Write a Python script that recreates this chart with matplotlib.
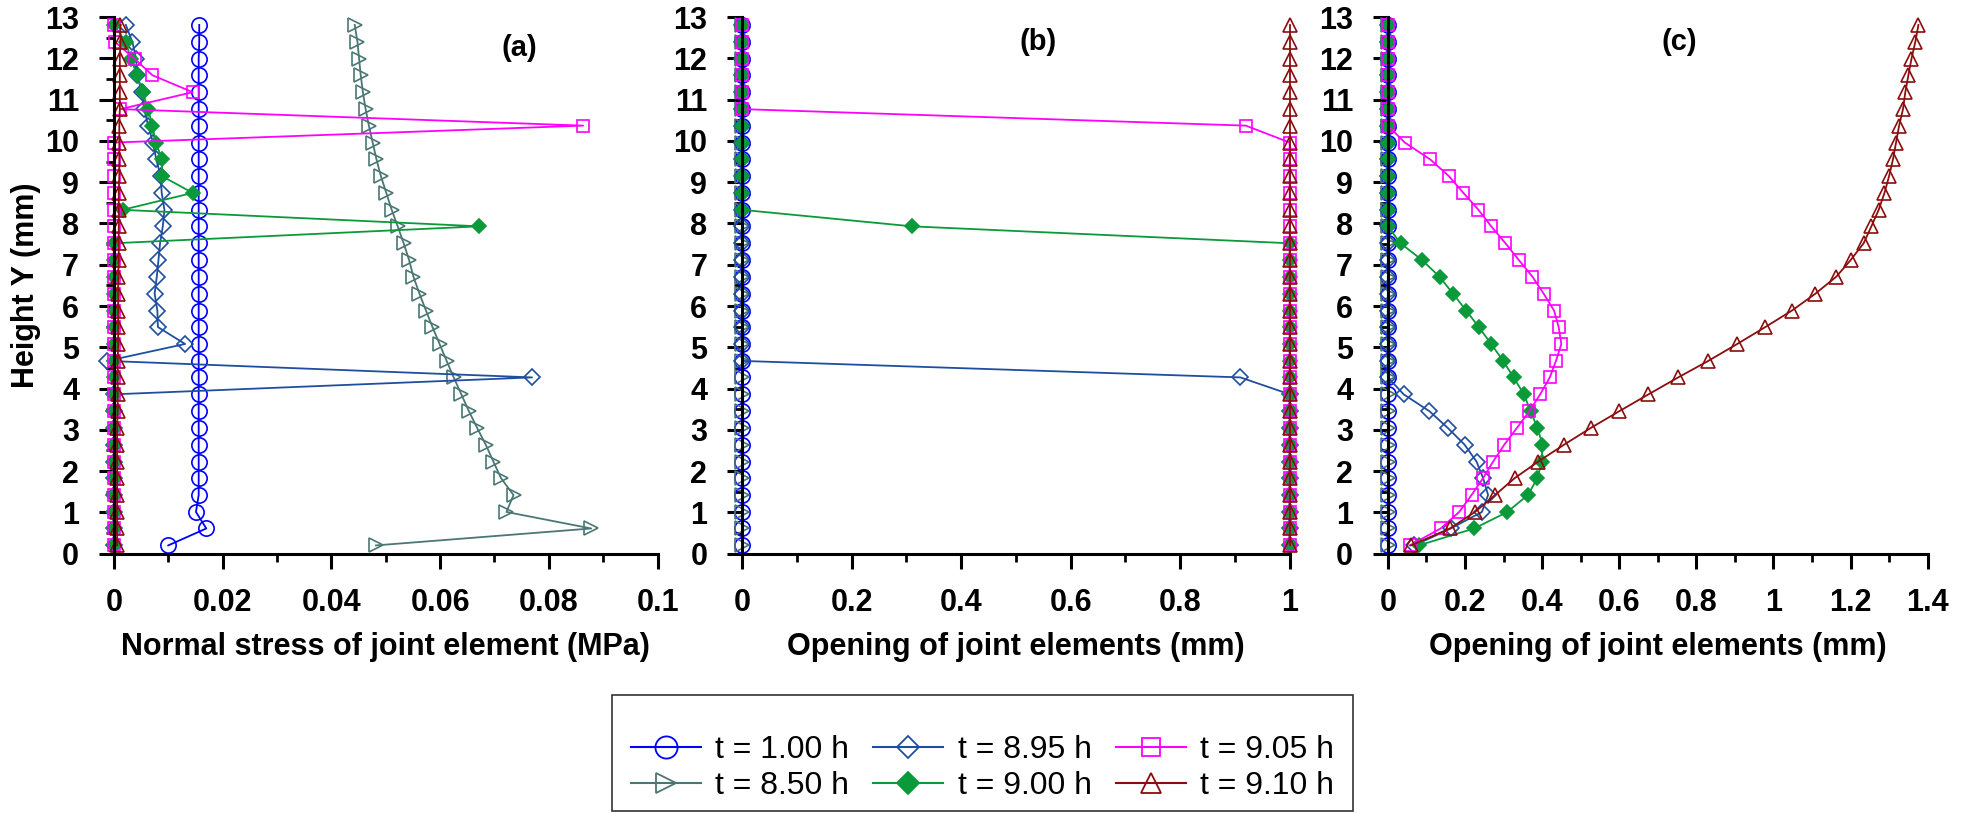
import matplotlib
matplotlib.use("Agg")
import matplotlib.pyplot as plt
from matplotlib.ticker import MultipleLocator, FormatStrFormatter
from matplotlib.lines import Line2D
from matplotlib.patches import Rectangle

plt.rcParams['font.family'] = ['Liberation Sans Narrow', 'Liberation Sans', 'DejaVu Sans']

# heights of joint elements (mm)
heights = [0.2, 0.61, 1.01, 1.42, 1.83, 2.23, 2.64, 3.05, 3.45, 3.86, 4.27, 4.67,
           5.08, 5.49, 5.89, 6.3, 6.71, 7.11, 7.52, 7.93, 8.33, 8.74, 9.15, 9.55,
           9.96, 10.37, 10.77, 11.18, 11.59, 11.99, 12.4, 12.81]

labels = ['t = 1.00 h', 't = 8.50 h', 't = 8.95 h', 't = 9.00 h', 't = 9.05 h', 't = 9.10 h']

# (a) normal stress (MPa)
stress_100 = [0.0100, 0.0170, 0.0151, 0.0156, 0.0156, 0.0156, 0.0156, 0.0156, 0.0156, 0.0156,
              0.0156, 0.0156, 0.0156, 0.0156, 0.0156, 0.0156, 0.0156, 0.0156, 0.0156, 0.0156,
              0.0156, 0.0156, 0.0156, 0.0156, 0.0156, 0.0156, 0.0156, 0.0156, 0.0156, 0.0156,
              0.0157, 0.0157]
stress_850 = [0.0482, 0.0878, 0.0722, 0.0735, 0.0712, 0.0698, 0.0684, 0.0668, 0.0653, 0.0639,
              0.0625, 0.0612, 0.0599, 0.0586, 0.0574, 0.0562, 0.0551, 0.0543, 0.0533, 0.0522,
              0.0511, 0.0501, 0.0491, 0.0483, 0.0476, 0.0469, 0.0463, 0.0458, 0.0454, 0.0451,
              0.0448, 0.0443]
stress_895 = [0.0, 0.0, 0.0, 0.0, 0.0, 0.0, 0.0, 0.0, 0.0, 0.0,
              0.0769, -0.0012, 0.0131, 0.0081, 0.0080, 0.0075, 0.0079, 0.0082, 0.0085, 0.0090,
              0.0093, 0.0088, 0.0086, 0.0078, 0.0072, 0.0063, 0.0056, 0.0051, 0.0043, 0.0041,
              0.0034, 0.0022]
stress_900 = [0.0, 0.0, 0.0, 0.0, 0.0, 0.0, 0.0, 0.0, 0.0, 0.0,
              0.0, 0.0, 0.0, 0.0, 0.0, 0.0, 0.0, 0.0, 0.0, 0.0672,
              0.0016, 0.0145, 0.0088, 0.0089, 0.0077, 0.0071, 0.0063, 0.0053, 0.0043, 0.0031,
              0.0022, 0.0]
stress_905 = [0.0, 0.0, 0.0, 0.0, 0.0, 0.0, 0.0, 0.0, 0.0, 0.0,
              0.0, 0.0, 0.0, 0.0, 0.0, 0.0, 0.0, 0.0, 0.0, 0.0,
              0.0, 0.0, 0.0, 0.0, 0.0, 0.0863, 0.0012, 0.0145, 0.0071, 0.0038,
              0.0002, 0.0]
stress_910 = [0.0006, 0.0006, 0.0006, 0.0006, 0.0006, 0.0006, 0.0006, 0.0006, 0.0007, 0.0007,
              0.0007, 0.0007, 0.0008, 0.0008, 0.0008, 0.0008, 0.0008, 0.0009, 0.0009, 0.0009,
              0.0009, 0.0009, 0.0010, 0.0010, 0.0010, 0.0010, 0.0011, 0.0011, 0.0011, 0.0011,
              0.0012, 0.0012]

# (b) opening of joint elements (mm), first stage
open_b_100 = [0.0] * 32
open_b_850 = [0.0] * 32
open_b_895 = [1.0] * 10 + [0.91] + [0.0] * 21
open_b_900 = [1.0] * 19 + [0.31] + [0.0] * 12
open_b_905 = [1.0] * 25 + [0.92] + [0.0] * 6
open_b_910 = [1.0] * 32

# (c) opening of joint elements (mm)
open_c_100 = [0.0] * 32
open_c_850 = [0.0] * 32
open_c_895 = [0.069, 0.163, 0.244, 0.26, 0.247, 0.23, 0.199, 0.155, 0.108, 0.041,
              0.0, 0.0, 0.0, 0.0, 0.0, 0.0, 0.0, 0.0, 0.0, 0.0,
              0.0, 0.0, 0.0, 0.0, 0.0, 0.0, 0.0, 0.0, 0.0, 0.0,
              0.0, 0.0]
open_c_900 = [0.08, 0.224, 0.31, 0.363, 0.388, 0.399, 0.401, 0.388, 0.37, 0.353,
              0.326, 0.299, 0.268, 0.236, 0.203, 0.169, 0.134, 0.089, 0.033, 0.0,
              0.0, 0.0, 0.0, 0.0, 0.0, 0.0, 0.0, 0.0, 0.0, 0.0,
              0.0, 0.0]
open_c_905 = [0.057, 0.137, 0.185, 0.217, 0.247, 0.273, 0.302, 0.335, 0.367, 0.395,
              0.42, 0.436, 0.45, 0.443, 0.431, 0.404, 0.375, 0.34, 0.305, 0.268,
              0.235, 0.196, 0.158, 0.11, 0.044, 0.0, 0.0, 0.0, 0.0, 0.0,
              0.0, 0.0]
open_c_910 = [0.06, 0.161, 0.226, 0.278, 0.329, 0.39, 0.457, 0.527, 0.6, 0.676,
              0.753, 0.831, 0.906, 0.979, 1.048, 1.109, 1.163, 1.2, 1.234, 1.254,
              1.273, 1.288, 1.3, 1.31, 1.318, 1.326, 1.336, 1.342, 1.35, 1.358,
              1.368, 1.376]

styles = [
    dict(color='#0000FF', marker='o', mfc='none', ms=11),
    dict(color='#4A7774', marker='>', mfc='none', ms=10),
    dict(color='#1F4EA0', marker='D', mfc='none', ms=8),
    dict(color='#0A9A3A', marker='D', mfc='#0A9A3A', ms=7.5),
    dict(color='#FF00FF', marker='s', mfc='none', ms=9),
    dict(color='#8B0D0D', marker='^', mfc='none', ms=10),
]

panels = [
    ([stress_100, stress_850, stress_895, stress_900, stress_905, stress_910],
     'Normal stress of joint element (MPa)', 0.1, 0.02, 0.01, '(a)', 0.0745, 12.25),
    ([open_b_100, open_b_850, open_b_895, open_b_900, open_b_905, open_b_910],
     'Opening of joint elements (mm)', 1.0, 0.2, 0.1, '(b)', 0.54, 12.4),
    ([open_c_100, open_c_850, open_c_895, open_c_900, open_c_905, open_c_910],
     'Opening of joint elements (mm)', 1.4, 0.2, 0.1, '(c)', 0.755, 12.4),
]

fig = plt.figure(figsize=(19.63, 8.13), dpi=100)
lefts = [0.058, 0.378, 0.707]
widths = [0.277, 0.279, 0.275]

for k, (series, xlabel, xmax, major, minor, tag, tx, ty) in enumerate(panels):
    ax = fig.add_axes([lefts[k], 0.319, widths[k], 0.66])
    for vals, st, lab in zip(series, styles, labels):
        ax.plot(vals, heights, lw=1.3, mew=1.2, clip_on=False, label=lab, **st)
    ax.set_xlim(0, xmax)
    ax.set_ylim(0, 13)
    ax.spines['top'].set_visible(False)
    ax.spines['right'].set_visible(False)
    ax.spines['left'].set_linewidth(2.2)
    ax.spines['bottom'].set_linewidth(2.2)
    ax.xaxis.set_major_locator(MultipleLocator(major))
    ax.xaxis.set_minor_locator(MultipleLocator(minor))
    ax.yaxis.set_major_locator(MultipleLocator(1))
    ax.yaxis.set_minor_locator(MultipleLocator(0.5))
    ax.xaxis.set_major_formatter(FormatStrFormatter('%g'))
    ax.tick_params(which='major', direction='out', length=11, width=2.2,
                   labelsize=22, pad=14)
    ax.tick_params(which='minor', direction='out', length=6, width=2)
    for t in ax.get_xticklabels() + ax.get_yticklabels():
        t.set_fontweight('bold')
    ax.set_xlabel(xlabel, fontsize=22, fontweight='bold', labelpad=10)
    ax.text(tx, ty, tag, fontsize=21, fontweight='bold', ha='center', va='center')
    if k == 0:
        ax.set_ylabel('Height Y (mm)', fontsize=22, fontweight='bold', labelpad=3)

# legend box drawn separately so the entries can sit low inside it
fig.patches.append(Rectangle((0.312, 0.003), 0.377, 0.142, transform=fig.transFigure,
                             facecolor='white', edgecolor='#333333', lw=1.2, zorder=0))

handles = [Line2D([], [], lw=1.5, mew=1.3, label=lab,
                  **dict(st, ms=st['ms'] * 1.45))
           for st, lab in zip(styles, labels)]
leg = fig.legend(handles=handles, ncol=3, loc='center',
                 bbox_to_anchor=(0.5005, 0.055), fontsize=23, frameon=False,
                 handlelength=2.2, columnspacing=0.75, handletextpad=0.45,
                 borderpad=0, labelspacing=0.2, borderaxespad=0)

fig.savefig('out.png', dpi=100)
